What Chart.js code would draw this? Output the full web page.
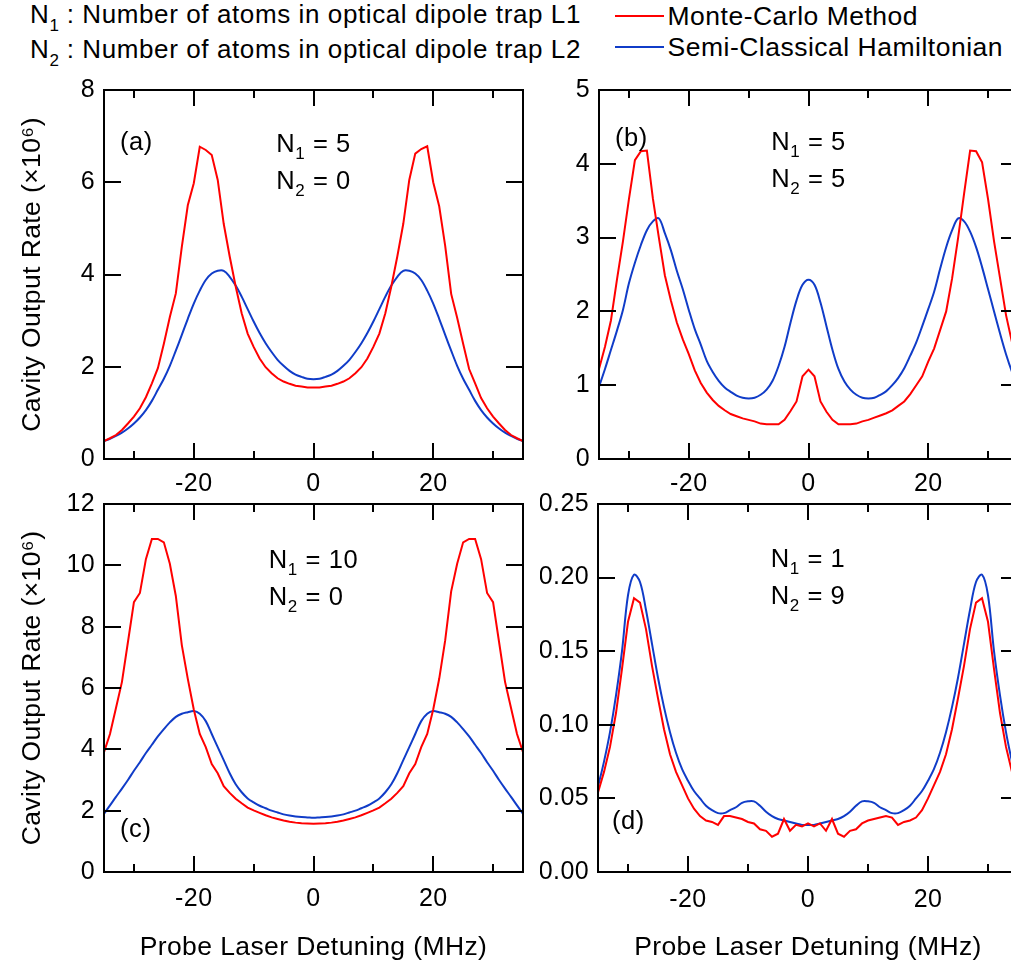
<!DOCTYPE html>
<html><head><meta charset="utf-8">
<script src="https://cdn.jsdelivr.net/npm/chart.js@4.4.1/dist/chart.umd.min.js"></script>
<style>
html,body{margin:0;padding:0;background:#fff;overflow:hidden;width:1011px;height:975px;}
body{position:relative;font-family:"Liberation Sans",Arial,sans-serif;color:#000;}
canvas{position:absolute;}
.t{position:absolute;white-space:nowrap;line-height:1;}
.sub{position:relative;font-size:17px;top:8px;letter-spacing:0;}
.ll{position:absolute;height:2px;}
</style></head><body>
<div class="t" style="left:30px;top:0.7px;font-size:26px;letter-spacing:0.6px">N<span class="sub">1</span> : Number of atoms in optical dipole trap L1</div>
<div class="t" style="left:30px;top:36px;font-size:26px;letter-spacing:0.6px">N<span class="sub">2</span> : Number of atoms in optical dipole trap L2</div>
<div id="legend"></div>
<canvas id="pa" width="560" height="440" style="left:0;top:60px"></canvas>
<canvas id="pb" width="500" height="440" style="left:540px;top:60px"></canvas>
<canvas id="pc" width="560" height="495" style="left:0;top:480px"></canvas>
<canvas id="pd" width="500" height="495" style="left:540px;top:480px"></canvas>
<script>
// ---------- data ----------
const detuning = [-35,-34,-33,-32,-31,-30,-29,-28,-27,-26,-25,-24,-23,-22,-21,-20,-19,-18,-17,-16,-15,-14,-13,-12,-11,-10,-9,-8,-7,-6,-5,-4,-3,-2,-1,0,1,2,3,4,5,6,7,8,9,10,11,12,13,14,15,16,17,18,19,20,21,22,23,24,25,26,27,28,29,30,31,32,33,34,35];

const seriesNames = ['Monte-Carlo Method', 'Semi-Classical Hamiltonian'];

const monteCarloA = [0.39,0.45,0.52,0.63,0.77,0.92,1.10,1.34,1.64,1.97,2.50,3.08,3.59,4.60,5.50,5.98,6.77,6.70,6.59,6.05,5.10,4.39,3.74,3.16,2.72,2.43,2.18,1.99,1.86,1.75,1.68,1.63,1.59,1.57,1.55,1.55,
  1.55,1.57,1.59,1.63,1.68,1.75,1.86,1.99,2.18,2.43,2.72,3.16,3.74,4.39,5.10,6.05,6.62,6.72,6.78,6.00,5.48,4.62,3.58,3.06,2.50,1.95,1.64,1.32,1.10,0.92,0.77,0.63,0.52,0.45,0.39];
const semiClassicalA = [0.39,0.44,0.50,0.57,0.66,0.77,0.90,1.06,1.26,1.50,1.74,2.02,2.35,2.69,3.04,3.37,3.65,3.88,4.02,4.08,4.08,3.95,3.76,3.52,3.25,2.98,2.73,2.51,2.32,2.15,2.02,1.91,1.83,1.78,1.74,1.73,
  1.74,1.78,1.83,1.91,2.02,2.15,2.32,2.51,2.73,2.98,3.25,3.52,3.76,3.95,4.08,4.08,4.02,3.88,3.65,3.37,3.04,2.69,2.35,2.02,1.74,1.50,1.26,1.06,0.90,0.77,0.66,0.57,0.50,0.44,0.39];

const monteCarloB = [1.22,1.52,1.88,2.43,2.95,3.52,4.05,4.17,4.18,3.53,3.00,2.49,2.15,1.85,1.62,1.42,1.20,1.03,0.90,0.80,0.72,0.66,0.61,0.58,0.55,0.53,0.51,0.48,0.47,0.47,0.47,0.53,0.65,0.78,1.12,1.21,
  1.12,0.78,0.64,0.53,0.47,0.47,0.47,0.48,0.51,0.53,0.56,0.59,0.62,0.66,0.72,0.78,0.88,1.00,1.12,1.32,1.50,1.75,2.00,2.45,3.00,3.60,4.18,4.17,4.02,3.52,2.95,2.45,1.95,1.58,1.22];
const semiClassicalB = [0.98,1.22,1.48,1.74,2.02,2.38,2.66,2.90,3.10,3.22,3.26,3.06,2.83,2.55,2.30,2.02,1.76,1.55,1.33,1.18,1.06,0.97,0.91,0.86,0.83,0.82,0.83,0.87,0.94,1.06,1.26,1.52,1.85,2.15,2.36,2.43,
  2.36,2.12,1.80,1.48,1.22,1.05,0.94,0.87,0.83,0.82,0.83,0.87,0.92,1.00,1.10,1.23,1.40,1.58,1.80,2.03,2.27,2.58,2.87,3.10,3.26,3.22,3.08,2.87,2.60,2.30,2.00,1.70,1.42,1.18,0.98];

const monteCarloC = [3.91,4.50,5.35,6.20,7.50,8.80,9.10,10.20,10.86,10.86,10.75,10.05,9.00,7.40,6.30,5.30,4.50,4.07,3.52,3.22,2.80,2.58,2.39,2.24,2.10,2.01,1.93,1.85,1.78,1.73,1.68,1.64,1.61,1.59,1.58,1.57,
  1.58,1.59,1.61,1.64,1.68,1.73,1.78,1.85,1.93,2.01,2.10,2.24,2.39,2.58,2.80,3.22,3.52,4.07,4.50,5.30,6.30,7.55,9.15,10.05,10.75,10.86,10.86,10.20,9.10,8.80,7.50,6.20,5.35,4.50,3.91];
const semiClassicalC = [1.90,2.17,2.45,2.72,3.00,3.30,3.58,3.88,4.15,4.42,4.66,4.88,5.06,5.16,5.21,5.25,5.16,4.92,4.50,4.07,3.65,3.22,2.86,2.60,2.40,2.27,2.16,2.08,2.00,1.94,1.88,1.84,1.81,1.79,1.78,1.77,
  1.78,1.79,1.81,1.84,1.88,1.94,2.00,2.08,2.16,2.27,2.40,2.60,2.86,3.22,3.65,4.07,4.50,4.92,5.16,5.25,5.21,5.16,5.06,4.88,4.66,4.42,4.15,3.88,3.58,3.30,3.00,2.72,2.45,2.17,1.90];

const monteCarloD = [0.054,0.068,0.085,0.108,0.138,0.170,0.186,0.183,0.165,0.140,0.118,0.097,0.080,0.068,0.059,0.050,0.043,0.038,0.035,0.034,0.032,0.038,0.038,0.037,0.036,0.034,0.033,0.029,0.028,0.024,0.026,0.036,0.028,0.032,0.031,0.033,
  0.031,0.033,0.028,0.036,0.026,0.024,0.028,0.029,0.033,0.035,0.036,0.037,0.038,0.037,0.032,0.034,0.035,0.037,0.042,0.050,0.059,0.068,0.080,0.097,0.118,0.140,0.165,0.183,0.186,0.170,0.138,0.108,0.085,0.068,0.054];
const semiClassicalD = [0.058,0.075,0.095,0.120,0.150,0.188,0.202,0.197,0.178,0.155,0.132,0.112,0.095,0.081,0.070,0.062,0.055,0.050,0.045,0.042,0.040,0.040,0.042,0.044,0.047,0.048,0.048,0.045,0.041,0.038,0.036,0.035,0.034,0.033,0.032,0.032,
  0.032,0.033,0.034,0.035,0.036,0.038,0.041,0.045,0.048,0.048,0.047,0.044,0.042,0.040,0.040,0.042,0.045,0.050,0.055,0.062,0.070,0.081,0.095,0.112,0.132,0.155,0.178,0.197,0.202,0.188,0.150,0.120,0.095,0.075,0.058];

// ticks
const xTickValues = [-30,-20,-10,0,10,20,30];
const xTickLabels = ['', '-20', '', '0', '', '20', ''];
const yTicksA = [0,2,4,6,8];        const yLabelsA = ['0','2','4','6','8'];
const yTicksB = [0,1,2,3,4,5];      const yLabelsB = ['0','1','2','3','4','5'];
const yTicksC = [0,2,4,6,8,10,12];  const yLabelsC = ['0','2','4','6','8','10','12'];
const yTicksD = [0,0.05,0.10,0.15,0.20,0.25]; const yLabelsD = ['0.00','0.05','0.10','0.15','0.20','0.25'];

const yTitle = 'Cavity Output Rate (\u00d710\u2076)';
const xTitle = 'Probe Laser Detuning (MHz)';

// ---------- style ----------
const FAM = '"Liberation Sans", Arial, sans-serif';
const RED = '#ff0000';
const BLUE = '#103cc8';
Chart.defaults.font.family = FAM;
Chart.defaults.color = '#000';

// legend (HTML, from series names)
(function(){
  const lg = document.getElementById('legend');
  const cols = [RED, BLUE];
  const tops = [15, 46];
  seriesNames.forEach((n, i) => {
    const l = document.createElement('div');
    l.className = 'll'; l.style.left = '615px'; l.style.top = tops[i] + 'px';
    l.style.width = '49px'; l.style.background = cols[i];
    lg.appendChild(l);
    const t = document.createElement('div');
    t.className = 't'; t.style.left = '667.5px'; t.style.top = (tops[i] - 12.5) + 'px';
    t.style.fontSize = '26.5px'; t.style.letterSpacing = '0.5px'; t.textContent = n;
    lg.appendChild(t);
  });
})();

const framePlugin = {
  id: 'frame',
  beforeDraw(chart) {
    chart.ctx.letterSpacing = '0.4px';
  },
  afterDatasetsDraw(chart) {
    const {ctx, chartArea: a, scales: {x, y}} = chart;
    ctx.save();
    ctx.strokeStyle = '#000';
    ctx.lineWidth = 2;
    ctx.beginPath();
    x.ticks.forEach(t => {
      const px = Math.round(x.getPixelForValue(t.value));
      const L = t.label !== '' ? 16 : 8;
      ctx.moveTo(px, a.bottom); ctx.lineTo(px, a.bottom - L);
      ctx.moveTo(px, a.top); ctx.lineTo(px, a.top + L);
    });
    y.ticks.forEach(t => {
      const py = Math.round(y.getPixelForValue(t.value));
      ctx.moveTo(a.left, py); ctx.lineTo(a.left + 17, py);
      ctx.moveTo(a.right, py); ctx.lineTo(a.right - 17, py);
    });
    ctx.stroke();
    ctx.strokeRect(a.left, a.top, a.right - a.left, a.bottom - a.top);
    ctx.restore();
  },
  afterDraw(chart, args, o) {
    const {ctx, chartArea: a, scales: {x}} = chart;
    ctx.save();
    ctx.letterSpacing = '0.6px';
    ctx.fillStyle = '#000';
    ctx.textBaseline = 'alphabetic';
    ctx.textAlign = 'left';
    const mainF = '25.5px ' + FAM, subF = '17px ' + FAM;
    ctx.font = mainF;
    ctx.fillText(o.tag, a.left + o.tagX, a.top + o.tagY);
    const wN = ctx.measureText('N').width;
    const wR = ctx.measureText(' = ' + o.n1).width;
    ctx.font = subF;
    const wS = ctx.measureText('1').width;
    const x0 = x.getPixelForValue(0) - (wN + wS + wR) / 2;
    [['1', o.n1], ['2', o.n2]].forEach(([s, v], i) => {
      const by = a.top + o.nY + i * 36.5;
      ctx.font = mainF; ctx.fillText('N', x0, by);
      ctx.font = subF; ctx.fillText(s, x0 + wN, by + 7);
      ctx.font = mainF; ctx.fillText(' = ' + v, x0 + wN + wS, by);
    });
    ctx.restore();
  }
};

function makePanel(id, c) {
  const pts = arr => arr.map((v, i) => ({x: detuning[i], y: v}));
  return new Chart(document.getElementById(id), {
    type: 'line',
    data: {
      datasets: [
        {label: seriesNames[0], data: pts(c.red), borderColor: RED, borderWidth: 2, pointRadius: 0, tension: 0, fill: false},
        {label: seriesNames[1], data: pts(c.blue), borderColor: BLUE, borderWidth: 2, pointRadius: 0, tension: 0.35, fill: false}
      ]
    },
    options: {
      responsive: false,
      animation: false,
      devicePixelRatio: 1,
      layout: {padding: {top: c.padTop, right: c.padRight, left: 0, bottom: 0}},
      plugins: {
        legend: {display: false},
        tooltip: {enabled: false},
        frame: {tag: c.tag, tagX: c.tagX, tagY: c.tagY, n1: c.n1, n2: c.n2, nY: c.nY}
      },
      scales: {
        x: {
          type: 'linear', min: -35, max: 35,
          afterBuildTicks: s => { s.ticks = xTickValues.map(v => ({value: v})); },
          afterFit: s => { s.height = c.xh; },
          grid: {display: false, drawTicks: false},
          border: {display: false},
          ticks: {autoSkip: false, maxRotation: 0, padding: c.xpad, color: '#000', font: {size: 25},
                  callback: (v, i) => xTickLabels[i]},
          title: c.xTitle ? {display: true, text: xTitle, color: '#000', font: {size: 26.5}, padding: {top: 0, bottom: 11}} : {display: false}
        },
        y: {
          type: 'linear', min: c.yTicks[0], max: c.yTicks[c.yTicks.length - 1],
          afterBuildTicks: s => { s.ticks = c.yTicks.map(v => ({value: v})); },
          afterFit: s => { s.width = c.yw; },
          grid: {display: false, drawTicks: false},
          border: {display: false},
          ticks: {autoSkip: false, padding: 9, color: '#000', font: {size: 25},
                  callback: (v, i) => c.yLabels[i]},
          title: c.yTitle ? {display: true, text: yTitle, color: '#000', font: {size: 26.5}, padding: {top: 17, bottom: 0}} : {display: false}
        }
      }
    },
    plugins: [framePlugin]
  });
}

makePanel('pa', {red: monteCarloA, blue: semiClassicalA, yTicks: yTicksA, yLabels: yLabelsA,
  padTop: 30, padRight: 37, yw: 104, xh: 41, xpad: 10, yTitle: true, xTitle: false,
  tag: '(a)', tagX: 16, tagY: 60, n1: '5', n2: '0', nY: 62});
makePanel('pb', {red: monteCarloB, blue: semiClassicalB, yTicks: yTicksB, yLabels: yLabelsB,
  padTop: 30, padRight: 22, yw: 59, xh: 41, xpad: 10, yTitle: false, xTitle: false,
  tag: '(b)', tagX: 16, tagY: 56, n1: '5', n2: '5', nY: 60});
makePanel('pc', {red: monteCarloC, blue: semiClassicalC, yTicks: yTicksC, yLabels: yLabelsC,
  padTop: 23, padRight: 37, yw: 104, xh: 103, xpad: 12, yTitle: true, xTitle: true,
  tag: '(c)', tagX: 16, tagY: 333, n1: '10', n2: '0', nY: 64});
makePanel('pd', {red: monteCarloD, blue: semiClassicalD, yTicks: yTicksD, yLabels: yLabelsD,
  padTop: 23, padRight: 22, yw: 58, xh: 103, xpad: 13, yTitle: false, xTitle: true,
  tag: '(d)', tagX: 14, tagY: 325, n1: '1', n2: '9', nY: 63});
</script>
</body></html>
